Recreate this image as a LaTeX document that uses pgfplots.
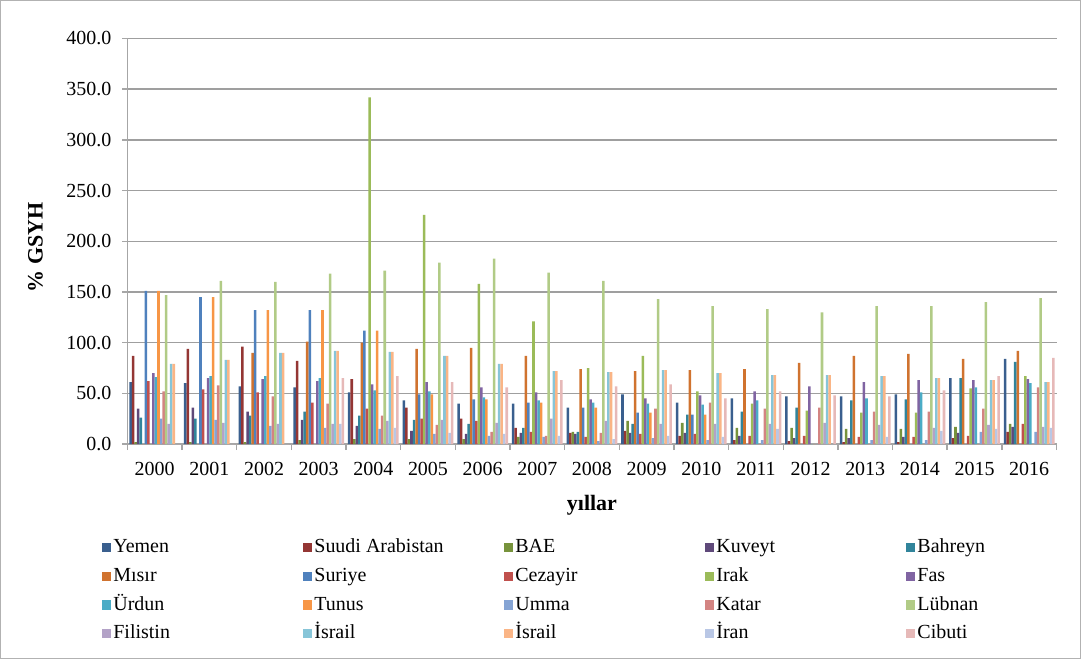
\documentclass[border=0pt]{standalone}
\usepackage{fontspec}
\setmainfont{Liberation Serif}
\usepackage{pgfplots}
\pgfplotsset{compat=1.18}
\usepackage{pgfplotstable}

\definecolor{c1}{HTML}{3A5F8E}
\definecolor{c2}{HTML}{943634}
\definecolor{c3}{HTML}{77933C}
\definecolor{c4}{HTML}{5F497A}
\definecolor{c5}{HTML}{31849B}
\definecolor{c6}{HTML}{D0732F}
\definecolor{c7}{HTML}{4F81BD}
\definecolor{c8}{HTML}{C0504D}
\definecolor{c9}{HTML}{9BBB59}
\definecolor{c10}{HTML}{8064A2}
\definecolor{c11}{HTML}{4BACC6}
\definecolor{c12}{HTML}{F79646}
\definecolor{c13}{HTML}{85A4D4}
\definecolor{c14}{HTML}{D38482}
\definecolor{c15}{HTML}{B1CB86}
\definecolor{c16}{HTML}{B3A2C7}
\definecolor{c17}{HTML}{87C5D8}
\definecolor{c18}{HTML}{FAB586}
\definecolor{c19}{HTML}{B9C7E5}
\definecolor{c20}{HTML}{E6B9B8}

\pgfplotsset{/pgfplots/ybar legend/.style={/pgfplots/legend image code/.code={\fill[##1] (0pt,-2.3pt) rectangle (4.6pt,2.3pt);}}}
\newcommand\lgd[1]{\makebox[94pt][l]{#1}}
\newcommand\lgl[1]{\makebox[40pt][l]{#1}}

% GSYH shares, years 2000-2016 as 0-16
\pgfplotstableread{
x Yemen Suudi BAE Kuveyt Bahreyn Misir Suriye Cezayir Irak Fas Urdun Tunus Umma Katar Lubnan Filistin IsrailA IsrailB Iran Cibuti
0  61 87 2  35 26 0   151 62 0   70 66 151 25 52 147 20 79 79 0  0
1  60 94 2  36 25 0   145 54 0   65 67 145 24 58 161 21 83 83 0  0
2  57 96 2  32 28 90  132 51 0   64 67 132 18 47 160 20 90 90 0  0
3  56 82 4  24 32 101 132 41 0   62 65 132 16 40 168 20 92 92 20 65
4  51 64 5  18 28 100 112 35 342 59 53 112 15 28 171 23 91 91 16 67
5  43 36 5  13 24 94  49  25 226 61 52 49  10 19 179 24 87 87 11 61
6  40 25 5  10 20 95  44  23 158 56 46 44  8  12 183 21 79 79 10 56
7  40 16 7  11 16 87  41  12 121 51 43 41  7  8  169 25 72 72 8  63
8  36 11 12 10 12 74  36  7  75  44 41 36  3  11 161 23 71 71 5  57
9  49 13 23 11 20 72  31  10 87  45 40 31  6  35 143 20 73 73 8  59
10 41 8  21 11 29 73  29  10 52  48 39 29  4  41 136 20 70 70 7  45
11 45 4  16 8  32 74  0   8  40  52 43 0   4  35 133 20 68 68 15 52
12 47 3  16 6  36 80  0   8  33  57 0  0   0  36 130 21 68 68 0  48
13 47 2  15 6  43 87  0   7  31  61 45 0   4  32 136 19 67 67 7  47
14 49 2  15 7  44 89  0   7  31  63 51 0   4  32 136 16 65 65 13 53
15 65 6  17 11 65 84  0   8  55  63 56 0   12 35 140 19 63 63 15 67
16 84 12 20 17 81 92  0   20 67  64 60 0   12 56 144 17 61 61 16 85
}\gsyh

\begin{document}
\begin{tikzpicture}
\draw[gray!60, line width=0.5pt] (0,0) rectangle (540.5pt,329.5pt);
\begin{axis}[
  at={(63.5pt,107.5pt)}, anchor=south west,
  scale only axis, width=465pt, height=203pt,
  ybar=0pt, bar width=1.27pt,
  xmin=-0.5, xmax=16.5, ymin=0, ymax=400,
  axis lines*=left,
  axis line style={gray!70, line width=0.75pt},
  xtick={0,...,16},
  xticklabels={2000,2001,2002,2003,2004,2005,2006,2007,2008,2009,2010,2011,2012,2013,2014,2015,2016},
  major x tick style={draw=none},
  minor xtick={-0.5,0.5,...,16.5},
  ytick={0,50,...,400},
  ymajorgrids, grid style={gray!75, line width=0.75pt},
  tick align=outside, major tick length=2.5pt, minor tick length=3pt,
  tick style={gray!70, line width=0.75pt},
  yticklabel style={/pgf/number format/fixed, /pgf/number format/fixed zerofill,
    /pgf/number format/precision=1, /pgf/number format/assume math mode=true, xshift=-2pt},
  ticklabel style={font=\fontsize{10}{12}\selectfont},
  xticklabel style={yshift=-3pt},
  every axis y label/.style={at={(axis description cs:-0.099,0.485)}, rotate=90, anchor=center, font=\fontsize{11}{13}\selectfont\bfseries},
  every axis x label/.style={at={(axis description cs:0.5,-0.150)}, anchor=center, font=\fontsize{11}{13}\selectfont\bfseries},
  ylabel={\% GSYH}, xlabel={yıllar},
  legend columns=5,
  legend style={draw=none, fill=none, at={(axis description cs:-0.034,-0.210)}, anchor=north west,
    font=\fontsize{10}{12}\selectfont, row sep=0.35pt,
    nodes={inner xsep=1pt, text height=7.5pt, text depth=2.5pt}},
]
\addplot[fill=c1, draw=none] table[x=x, y=Yemen] {\gsyh}; \addlegendentry{\lgd{Yemen}}
\addplot[fill=c2, draw=none] table[x=x, y=Suudi] {\gsyh}; \addlegendentry{\lgd{Suudi Arabistan}}
\addplot[fill=c3, draw=none] table[x=x, y=BAE] {\gsyh}; \addlegendentry{\lgd{BAE}}
\addplot[fill=c4, draw=none] table[x=x, y=Kuveyt] {\gsyh}; \addlegendentry{\lgd{Kuveyt}}
\addplot[fill=c5, draw=none] table[x=x, y=Bahreyn] {\gsyh}; \addlegendentry{\lgl{Bahreyn}}
\addplot[fill=c6, draw=none] table[x=x, y=Misir] {\gsyh}; \addlegendentry{\lgd{Mısır}}
\addplot[fill=c7, draw=none] table[x=x, y=Suriye] {\gsyh}; \addlegendentry{\lgd{Suriye}}
\addplot[fill=c8, draw=none] table[x=x, y=Cezayir] {\gsyh}; \addlegendentry{\lgd{Cezayir}}
\addplot[fill=c9, draw=none] table[x=x, y=Irak] {\gsyh}; \addlegendentry{\lgd{Irak}}
\addplot[fill=c10, draw=none] table[x=x, y=Fas] {\gsyh}; \addlegendentry{\lgl{Fas}}
\addplot[fill=c11, draw=none] table[x=x, y=Urdun] {\gsyh}; \addlegendentry{\lgd{Ürdun}}
\addplot[fill=c12, draw=none] table[x=x, y=Tunus] {\gsyh}; \addlegendentry{\lgd{Tunus}}
\addplot[fill=c13, draw=none] table[x=x, y=Umma] {\gsyh}; \addlegendentry{\lgd{Umma}}
\addplot[fill=c14, draw=none] table[x=x, y=Katar] {\gsyh}; \addlegendentry{\lgd{Katar}}
\addplot[fill=c15, draw=none] table[x=x, y=Lubnan] {\gsyh}; \addlegendentry{\lgl{Lübnan}}
\addplot[fill=c16, draw=none] table[x=x, y=Filistin] {\gsyh}; \addlegendentry{\lgd{Filistin}}
\addplot[fill=c17, draw=none] table[x=x, y=IsrailA] {\gsyh}; \addlegendentry{\lgd{İsrail}}
\addplot[fill=c18, draw=none] table[x=x, y=IsrailB] {\gsyh}; \addlegendentry{\lgd{İsrail}}
\addplot[fill=c19, draw=none] table[x=x, y=Iran] {\gsyh}; \addlegendentry{\lgd{İran}}
\addplot[fill=c20, draw=none] table[x=x, y=Cibuti] {\gsyh}; \addlegendentry{\lgl{Cibuti}}
\end{axis}
\end{tikzpicture}
\end{document}
